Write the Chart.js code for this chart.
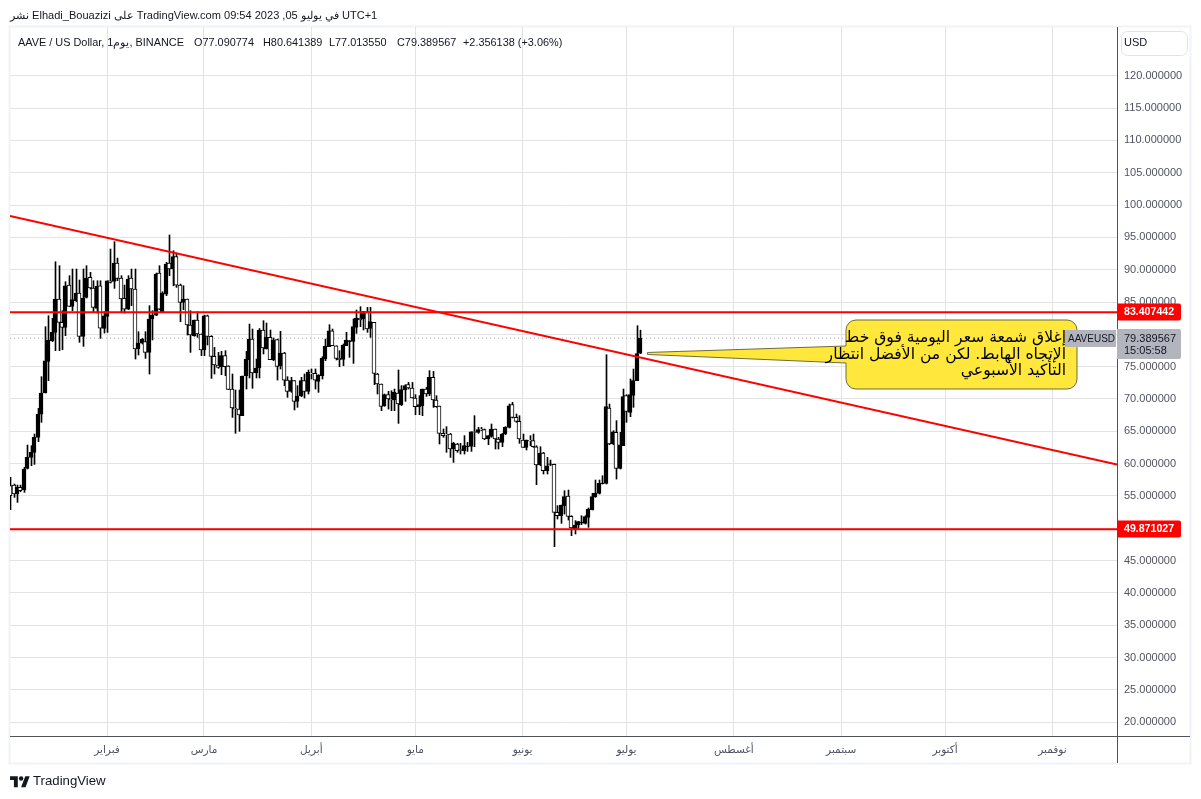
<!DOCTYPE html>
<html lang="ar">
<head>
<meta charset="utf-8">
<title>AAVE / US Dollar</title>
<script src="https://cdn.jsdelivr.net/npm/chart.js@4/dist/chart.umd.min.js"></script>
<style>
html,body{margin:0;padding:0;background:#fff;width:1201px;height:799px;overflow:hidden}
#wrap{position:relative;width:1201px;height:799px;font-family:"Liberation Sans",Arial,sans-serif;color:#131722}
canvas{position:absolute;left:0;top:0}
.t{position:absolute;white-space:nowrap;font-size:10.9px;line-height:14px}
#head{left:10px;top:8px;font-size:11.05px;direction:ltr}
#logo{position:absolute;left:10px;top:774px}
#brand{left:33px;top:773px;font-size:13.2px;line-height:16px;color:#131722}
</style>
</head>
<body>
<div id="wrap">
<canvas id="c" width="1201" height="799"></canvas>
<div class="t" id="head">نشر Elhadi_Bouazizi على TradingView.com 09:54 2023 ,05 في يوليو UTC+1</div>
<div class="t" style="left:18px;top:35px">AAVE / US Dollar, 1يوم, BINANCE</div>
<div class="t" style="left:194px;top:35px">O77.090774</div>
<div class="t" style="left:263px;top:35px">H80.641389</div>
<div class="t" style="left:329px;top:35px">L77.013550</div>
<div class="t" style="left:397px;top:35px">C79.389567</div>
<div class="t" style="left:463px;top:35px">+2.356138 (+3.06%)</div>
<svg id="logo" width="20" height="15.5" viewBox="0 0 36 28" fill="#131722"><path d="M14 24H7V11H0V4h14v20zM28 24h-8l7.5-20h8L28 24z"/><circle cx="20" cy="8" r="4"/></svg>
<div class="t" id="brand">TradingView</div>
</div>
<script>
const dayIndex=[];
const opens=[56.59,56.69,55.30,56.33,55.92,59.27,60.97,61.75,64.07,67.67,70.92,75.82,79.02,80.30,85.46,81.85,81.08,87.62,84.32,85.20,86.39,79.69,85.72,88.81,87.16,84.02,87.52,80.92,82.78,88.29,88.19,91.03,88.71,85.56,83.91,88.71,87.01,77.73,78.65,78.86,77.21,82.37,82.98,89.48,83.50,86.23,91.03,90.10,92.01,87.62,84.94,85.46,81.44,79.79,82.21,80.05,77.57,82.88,79.69,76.59,75.25,75.00,76.70,75.10,71.54,68.60,68.45,67.42,73.60,76.08,79.27,74.02,74.79,80.67,77.73,79.53,76.03,79.17,75.15,77.11,72.93,71.18,72.83,69.64,70.46,72.83,71.18,73.97,73.97,72.73,73.60,76.18,78.09,80.56,78.24,76.28,76.13,78.24,78.86,78.91,81.08,82.52,82.37,83.50,80.92,81.85,73.86,72.32,68.97,70.67,70.00,69.84,70.92,69.12,71.39,72.21,71.70,70.15,68.81,68.96,71.54,70.77,73.35,69.84,68.91,64.69,64.58,64.58,62.26,63.04,62.16,62.00,62.62,62.68,64.94,64.84,65.36,65.25,63.81,64.22,65.36,63.81,63.29,64.58,65.61,69.12,67.16,66.54,63.66,62.52,63.60,63.55,62.62,59.79,61.64,58.91,59.89,59.89,52.47,51.95,53.50,54.99,51.85,49.89,50.51,50.87,50.77,51.70,52.88,54.89,55.41,56.90,56.95,68.60,63.04,64.84,59.27,62.78,70.51,67.93,70.56,72.83,77.09];
const highs=[57.88,56.85,56.69,56.69,59.43,62.88,62.78,64.58,68.55,73.45,81.18,82.88,82.47,91.23,90.61,83.65,88.14,89.07,90.10,90.10,88.40,90.10,90.61,89.58,88.29,88.29,88.29,83.50,88.29,93.19,94.33,91.80,89.07,87.62,89.07,90.10,90.10,80.41,79.38,80.41,84.43,83.65,89.48,90.61,86.59,91.13,95.36,92.93,92.57,87.78,87.52,85.46,83.65,82.21,83.50,80.05,82.98,82.98,79.79,77.98,77.21,77.37,77.47,75.15,73.86,71.39,71.39,73.55,77.37,81.59,80.82,76.18,80.90,82.11,81.75,80.67,79.43,79.27,80.46,77.21,73.45,73.35,72.83,72.06,73.35,73.86,74.48,74.64,74.64,73.76,76.54,79.27,81.49,80.82,78.24,77.47,78.50,80.31,79.02,82.37,83.76,84.28,83.55,84.17,84.17,81.85,73.97,72.32,70.77,71.18,71.28,71.54,74.48,72.06,72.21,72.57,72.57,70.67,70.51,71.54,71.80,74.38,74.27,70.51,68.91,65.36,65.72,64.69,63.29,63.14,63.14,64.33,63.29,64.94,67.42,65.61,65.61,65.36,64.33,66.13,65.36,64.07,64.69,65.72,69.22,69.48,67.68,67.42,64.58,63.66,64.33,64.58,62.78,62.62,61.75,60.97,60.56,59.94,53.50,53.60,55.82,55.92,51.95,51.18,51.08,51.95,51.95,53.14,55.41,57.47,57.47,58.14,76.85,69.22,65.10,66.65,64.84,71.54,70.67,73.09,74.63,81.34,80.64];
const lows=[52.88,54.79,54.01,55.66,55.56,59.17,59.68,59.89,63.40,66.39,70.92,72.83,78.86,77.47,77.47,77.62,79.79,84.32,83.65,85.05,78.76,78.14,85.61,87.01,83.40,83.29,79.38,80.20,80.30,87.93,87.11,88.29,83.40,83.29,83.81,84.43,76.18,76.80,78.50,76.28,73.86,79.12,82.88,83.81,83.50,85.97,89.07,87.52,87.26,81.95,83.81,79.89,77.21,79.69,79.53,76.70,76.70,78.35,73.19,73.86,74.74,73.76,73.60,71.44,67.16,64.69,65.00,67.42,71.54,73.25,71.65,73.25,73.25,76.96,77.73,76.08,75.92,72.93,74.64,72.06,70.25,71.03,68.30,68.71,70.36,70.15,70.77,73.09,71.54,71.03,73.09,75.92,78.09,78.24,76.03,75.00,75.15,78.24,76.44,75.51,80.15,81.18,80.67,80.31,79.53,72.21,70.77,68.19,68.86,68.45,68.19,68.19,66.23,68.97,69.64,71.54,70.15,67.57,67.57,67.42,70.41,70.51,68.71,68.71,63.04,64.07,61.75,60.97,60.20,61.75,61.49,61.49,61.90,61.90,62.62,64.69,65.10,63.71,62.93,64.07,62.26,62.26,62.62,64.48,65.51,67.06,66.39,63.14,62.52,62.11,62.78,62.52,56.75,59.68,58.40,58.40,59.68,47.16,51.44,50.77,52.21,51.28,48.86,49.12,49.89,50.56,50.66,50.15,52.83,54.79,55.30,56.85,56.85,62.93,62.93,57.62,59.17,62.78,66.39,67.26,68.71,72.83,77.01];
const closes=[55.04,55.30,56.33,55.82,59.17,60.97,61.75,64.07,67.67,70.92,75.92,79.12,80.30,85.46,81.85,81.08,87.52,84.32,85.36,86.39,79.69,85.61,88.71,87.16,84.17,87.42,80.97,82.88,88.29,88.04,91.03,88.65,85.46,83.91,88.55,87.01,77.73,78.65,79.27,77.21,82.37,82.98,89.33,83.91,86.39,90.87,90.10,92.01,87.62,84.94,85.46,81.44,79.89,82.21,80.05,77.57,82.88,79.69,76.59,75.25,74.89,76.70,75.00,71.49,68.60,68.45,67.52,73.55,76.18,79.27,74.02,74.79,80.67,77.88,79.53,76.08,79.12,75.05,77.11,72.93,71.18,72.83,69.64,70.46,72.83,71.18,74.12,73.90,72.93,73.71,76.34,78.19,80.56,78.24,76.28,76.08,78.35,79.12,79.02,81.18,82.52,82.21,83.50,80.82,81.96,73.97,72.32,68.86,70.67,70.00,69.84,71.03,69.22,71.44,72.06,71.70,70.15,68.81,69.12,71.54,70.77,73.35,69.84,68.81,64.69,64.33,64.48,62.26,63.19,62.00,62.06,62.78,62.72,64.94,64.84,65.25,65.25,63.81,64.33,65.36,63.81,63.29,64.58,65.61,68.96,67.16,66.54,63.81,62.52,63.66,63.50,62.62,59.79,61.64,58.91,59.68,59.99,52.47,51.95,53.60,54.89,51.85,50.05,50.51,51.03,50.97,51.80,52.98,54.89,55.46,56.95,57.00,68.81,63.04,64.94,59.27,62.93,70.36,68.09,70.67,72.83,77.03,79.39];
for(let i=0;i<opens.length;i++)dayIndex.push(i+1);

const priceTicks=[20,25,30,35,40,45,50,55,60,65,70,75,80,85,90,95,100,105,110,115,120];
const monthDays=[29,57,88,118,149,179,210,241,271,302];
const monthLabels=["فبراير","مارس","أبريل","مايو","يونيو","يوليو","أغسطس","سبتمبر","أكتوبر","نوفمبر"];
const resistance=83.407442, support=49.871027, lastPrice=79.389567;
const trendDays=[0.98,320.65], trendPrices=[98.30,59.87];
const noteLines=["إغلاق شمعة سعر اليومية فوق خط","الإتجاه الهابط. لكن من الأفضل انتظار","التأكيد الأسبوعي"];
const FONT='"Liberation Sans",Arial,sans-serif';
const AR='"DejaVu Sans",sans-serif';

const xMin=0.98,xMax=320.65,yMin=17.88,yMax=127.53;

const overlay={
  id:'overlay',
  beforeDraw(c){
    const g=c.ctx;g.save();
    g.strokeStyle='#f0f3fa';g.lineWidth=2;
    g.strokeRect(9.5,26.5,1181,737);
    g.restore();
  },
  afterDatasetsUpdate(c){
    c.data.datasets.forEach((d,i)=>{
      if(d.type==='line')return;
      const shift=d.label==='wick'?0.5:0;
      c.getDatasetMeta(i).data.forEach(el=>{el.x=Math.round(el.x)+shift;});
    });
  },
  afterDraw(c){
    const g=c.ctx,x=c.scales.x,y=c.scales.y,ca=c.chartArea;
    g.save();
    g.strokeStyle='#50535e';g.lineWidth=1;
    g.beginPath();g.moveTo(ca.right+.5,27);g.lineTo(ca.right+.5,763);
    g.moveTo(10,ca.bottom+.5);g.lineTo(1190,ca.bottom+.5);g.stroke();
    g.strokeStyle='#e0e3eb';g.beginPath();g.roundRect(1121.5,31.5,66,24,6);g.stroke();
    g.fillStyle='#131722';g.font='11px '+FONT;g.textAlign='left';g.textBaseline='middle';
    g.fillText('USD',1124,43);
    const tx=x.getPixelForValue(185.07),ty=y.getPixelForValue(77.04);
    g.fillStyle='#ffe83b';g.strokeStyle='#6f6c3c';g.lineWidth=1;
    g.beginPath();
    g.moveTo(856,320);g.lineTo(1067,320);g.arcTo(1077,320,1077,330,10);g.lineTo(1077,379);
    g.arcTo(1077,389,1067,389,10);g.lineTo(856,389);g.arcTo(846,389,846,379,10);
    g.lineTo(846,363);g.lineTo(tx,ty+1);g.lineTo(tx,ty-1);g.lineTo(846,346);g.lineTo(846,330);
    g.arcTo(846,320,856,320,10);g.closePath();g.fill();g.stroke();
    g.fillStyle='#000';g.font='15.6px '+AR;g.direction='rtl';g.textAlign='right';g.textBaseline='middle';
    noteLines.forEach((t,i)=>g.fillText(t,1066,338+i*16.5));
    g.direction='ltr';
    const badge=(v,col,txt,tc)=>{const p=Math.round(y.getPixelForValue(v));
      g.fillStyle=col;g.beginPath();g.roundRect(1117,p-8.5,64,17,[0,2,2,0]);g.fill();
      g.fillStyle=tc;g.font='bold 10.6px '+FONT;g.textAlign='left';g.textBaseline='middle';g.fillText(txt,1124,p+.5);};
    badge(resistance,'#ff0000',resistance.toFixed(6),'#fff');
    badge(support,'#ff0000',support.toFixed(6),'#fff');
    g.fillStyle='#b2b5be';g.beginPath();g.roundRect(1117,329,64,30,[0,2,2,0]);g.fill();
    g.fillRect(1065,330,51,17);
    g.fillStyle='#131722';g.font='11px '+FONT;g.textAlign='left';g.textBaseline='middle';
    g.fillText(lastPrice.toFixed(6),1124,338.5);
    g.fillText('15:05:58',1124,351);
    g.font='10px '+FONT;g.fillText('AAVEUSD',1068,339);
    g.restore();
  }
};

const toPts=(a,b)=>dayIndex.map((d,i)=>({x:d,y:[a[i],b[i]]}));
new Chart(document.getElementById('c'),{
  type:'bar',
  plugins:[overlay],
  data:{datasets:[
    {type:'line',data:[{x:xMin,y:lastPrice},{x:xMax,y:lastPrice}],borderColor:'#a8abb3',borderWidth:1,borderDash:[1,3],pointRadius:0,order:3},
    {type:'bar',label:'wick',data:toPts(lows,highs),backgroundColor:'#000',borderWidth:0,barThickness:1,grouped:false,order:2},
    {type:'bar',label:'body',data:toPts(opens,closes),
      backgroundColor:dayIndex.map((d,i)=>closes[i]>=opens[i]?'#000':'#fff'),
      borderColor:'#000',borderWidth:1,borderSkipped:false,barThickness:4,grouped:false,order:1},
    {type:'line',data:[{x:xMin,y:resistance},{x:xMax,y:resistance}],borderColor:'#ff0000',borderWidth:2,pointRadius:0,order:0},
    {type:'line',data:[{x:xMin,y:support},{x:xMax,y:support}],borderColor:'#ff0000',borderWidth:2,pointRadius:0,order:0},
    {type:'line',data:trendDays.map((d,i)=>({x:d,y:trendPrices[i]})),borderColor:'#ff0000',borderWidth:2,pointRadius:0,order:0}
  ]},
  options:{
    responsive:false,animation:false,devicePixelRatio:1,
    layout:{padding:{left:10,top:27,right:11,bottom:34}},
    plugins:{legend:{display:false},tooltip:{enabled:false},title:{display:false}},
    scales:{
      x:{type:'linear',offset:false,min:xMin,max:xMax,
        afterBuildTicks(a){a.ticks=monthDays.map(v=>({value:v}));},
        afterFit(a){a.height=29;},
        grid:{offset:false,color:'#e3e3e3',lineWidth:1,drawTicks:false},border:{display:false},
        ticks:{autoSkip:false,maxRotation:0,padding:8,color:'#50535e',font:{family:AR,size:10.5},
          callback:v=>monthLabels[monthDays.indexOf(v)]}},
      y:{type:'linear',position:'right',min:yMin,max:yMax,
        afterBuildTicks(a){a.ticks=priceTicks.map(v=>({value:v}));},
        afterFit(a){a.width=73;},
        grid:{color:'#e3e3e3',lineWidth:1,drawTicks:false},border:{display:false},
        ticks:{autoSkip:false,padding:7,color:'#50535e',font:{family:FONT,size:11},
          callback:v=>Number(v).toFixed(6)}}
    }
  }
});
</script>
</body>
</html>
